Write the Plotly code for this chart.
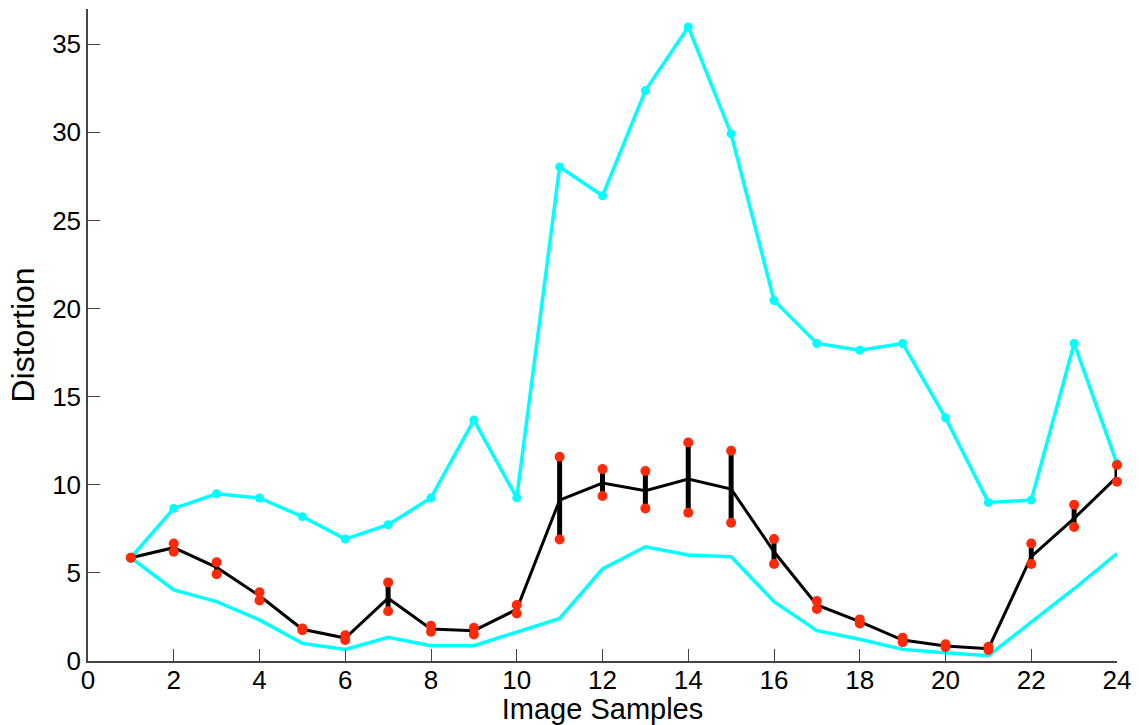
import plotly.graph_objects as go

samples = list(range(1, 25))
mean_vals = [5.86, 6.43, 5.31, 3.70, 1.80, 1.30, 3.56, 1.82, 1.72, 2.93, 9.13, 10.10,
             9.66, 10.32, 9.76, 6.20, 3.18, 2.23, 1.19, 0.85, 0.70, 5.92, 8.09, 10.45]
upper_red = [5.86, 6.67, 5.60, 3.90, 1.85, 1.46, 4.46, 2.00, 1.89, 3.18, 11.59, 10.89,
             10.78, 12.40, 11.93, 6.92, 3.40, 2.36, 1.32, 0.95, 0.81, 6.67, 8.87, 11.12]
lower_red = [5.86, 6.20, 4.93, 3.44, 1.75, 1.19, 2.82, 1.66, 1.51, 2.70, 6.90, 9.36,
             8.66, 8.41, 7.85, 5.50, 2.95, 2.13, 1.06, 0.80, 0.62, 5.50, 7.60, 10.17]
cyan_upper = [5.86, 8.66, 9.49, 9.25, 8.19, 6.92, 7.73, 9.26, 13.67, 9.26, 28.04, 26.40,
              32.37, 35.98, 29.91, 20.46, 18.02, 17.64, 18.02, 13.80, 9.00, 9.13, 18.02, 11.20]
cyan_lower = [5.86, 4.03, 3.37, 2.33, 1.00, 0.66, 1.34, 0.87, 0.87, 1.66, 2.42, 5.22,
              6.48, 6.02, 5.92, 3.37, 1.72, 1.23, 0.66, 0.47, 0.30, 2.20, 4.10, 6.10]

CYAN = "#00FFFF"
RED = "#FF2A0A"
FONT = "Liberation Sans, Arial, sans-serif"

fig = go.Figure()
fig.add_trace(go.Scatter(x=samples, y=cyan_lower, mode="lines",
                         line=dict(color=CYAN, width=3.5), cliponaxis=False))
fig.add_trace(go.Scatter(x=samples, y=cyan_upper, mode="lines+markers",
                         line=dict(color=CYAN, width=3.5),
                         marker=dict(color=CYAN, size=9), cliponaxis=False))
fig.add_trace(go.Scatter(
    x=samples, y=mean_vals, mode="lines",
    line=dict(color="black", width=3),
    error_y=dict(type="data", symmetric=False,
                 array=[u - m for u, m in zip(upper_red, mean_vals)],
                 arrayminus=[m - l for m, l in zip(mean_vals, lower_red)],
                 thickness=5, width=0, color="black"),
    cliponaxis=False))
fig.add_trace(go.Scatter(x=samples + samples, y=upper_red + lower_red, mode="markers",
                         marker=dict(color=RED, size=10), cliponaxis=False))

axis_common = dict(
    showgrid=False, zeroline=False, showline=True, linecolor="#444", linewidth=1.5,
    ticks="inside", ticklen=12, tickcolor="#444", tickwidth=1.2,
    tickfont=dict(family=FONT, size=26, color="black"),
    mirror=False,
)
fig.update_xaxes(range=[0, 24], tickmode="linear", tick0=0, dtick=2,
                 ticklabelstandoff=-5,
                 title=dict(text="Image Samples", standoff=4,
                            font=dict(family=FONT, size=29, color="black")),
                 **axis_common)
fig.update_yaxes(range=[0, 37], tickmode="linear", tick0=0, dtick=5,
                 title=dict(text="Distortion", standoff=8,
                            font=dict(family=FONT, size=32, color="black")),
                 **axis_common)
fig.update_layout(
    width=1139, height=725,
    margin=dict(l=88, r=22, t=9, b=64, autoexpand=False),
    plot_bgcolor="white", paper_bgcolor="white",
    showlegend=False,
)
fig.write_html("out.html")
